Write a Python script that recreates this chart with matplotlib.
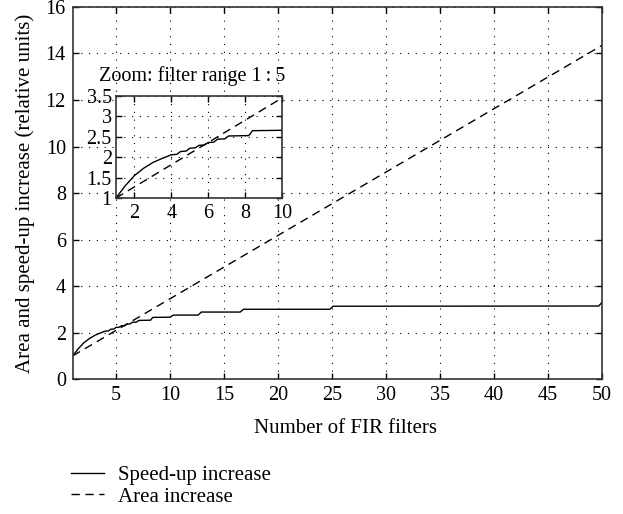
import matplotlib
matplotlib.use("Agg")
import matplotlib.pyplot as plt

plt.rcParams['font.family'] = ['Liberation Serif', 'DejaVu Serif']
plt.rcParams['font.size'] = 15

# Speed-up curve
speed_n = [1, 1.5, 2, 2.5, 3, 3.5, 4, 4.3, 4.5, 4.8, 5, 5.3, 5.5, 5.8, 6, 6.3, 6.5, 6.9, 7.1,
           8.2, 8.4, 10, 10.3, 12.6, 12.9, 16.5, 16.8, 24.8, 25.1, 49.7, 50]
speed = [1.0, 1.3, 1.55, 1.73, 1.87, 1.97, 2.06, 2.07, 2.14, 2.15, 2.22, 2.23, 2.29, 2.3, 2.36, 2.37,
         2.44, 2.45, 2.52, 2.53, 2.65, 2.66, 2.75, 2.75, 2.88, 2.88, 3.0, 3.0, 3.13, 3.14, 3.3]

# Area curve
area_n = [1, 50]
area = [1.0, 14.35]

xticks = [5, 10, 15, 20, 25, 30, 35, 40, 45, 50]
yticks = [0, 2, 4, 6, 8, 10, 12, 14, 16]
inset_xticks = [2, 4, 6, 8, 10]
inset_yticks = [1, 1.5, 2, 2.5, 3, 3.5]

fig = plt.figure(figsize=(6.23, 5.14), dpi=100)
ax = fig.add_axes([0.1169, 0.2626, 0.8494, 0.7238])

ln1, = ax.plot(speed_n, speed, color='black', lw=1.0, label='Speed-up increase')
ln2, = ax.plot(area_n, area, color='black', lw=1.0, dashes=(6, 4), label='Area increase')

def style(a):
    a.tick_params(direction='in', top=True, right=True, length=4, width=1, pad=5,
                  labelsize=14.5)
    a.grid(True, color='black', linestyle=(0, (1, 6)), lw=0.8)
    for s in a.spines.values():
        s.set_linewidth(1.2)
        s.set_color('#333333')

ax.set_xlim(1, 50)
ax.set_ylim(0, 16)
ax.set_xticks(xticks)
ax.set_yticks(yticks)
style(ax)
ax.set_xlabel('Number of FIR filters', labelpad=10)
ax.xaxis.label.set_x(0.515)
ax.set_ylabel('Area and speed-up increase (relative units)', labelpad=8)

# Inset
ins = fig.add_axes([0.1862, 0.6148, 0.2665, 0.1984])
ins.plot(speed_n, speed, color='black', lw=1.0)
ins.plot(area_n, area, color='black', lw=1.0, dashes=(6, 4))
ins.set_xlim(1, 10)
ins.set_ylim(1, 3.5)
ins.set_xticks(inset_xticks)
ins.set_yticks(inset_yticks)
ins.set_yticklabels(['1', '1.5', '2', '2.5', '3', '3.5'])
style(ins)
ins.tick_params(axis='y', pad=3)
ins.tick_params(axis='x', pad=4)
ins.set_title('Zoom: filter range 1\u2009:\u20095', fontsize=14.5, pad=11, x=0.46)

fig.legend(handles=[ln1, ln2], loc='upper left', bbox_to_anchor=(0.1, 0.111),
           frameon=False, handlelength=1.6, handletextpad=0.65, labelspacing=0.1,
           borderaxespad=0)

fig.savefig('out.png', dpi=100)
